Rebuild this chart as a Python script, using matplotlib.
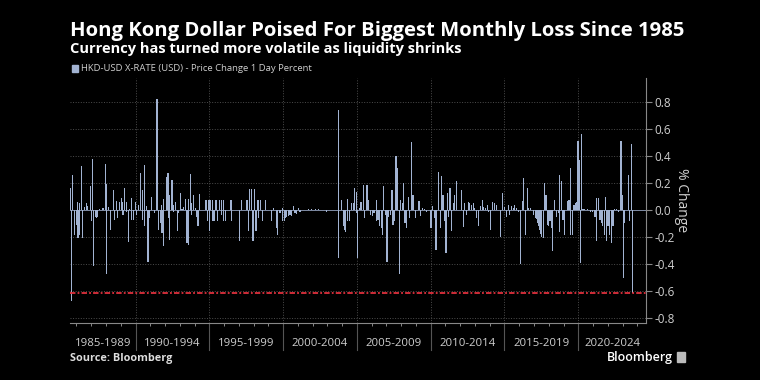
import numpy as np
import matplotlib
matplotlib.use('Agg')
import matplotlib.pyplot as plt
import matplotlib.transforms as mtransforms
from matplotlib.ticker import FormatStrFormatter

# HKD-USD daily % change (date as decimal year)
day = [
    1985.60, 1985.66, 1985.75, 1985.85, 1985.98, 1986.09, 1986.10, 1986.21, 1986.22, 1986.32,
    1986.43, 1986.55, 1986.66, 1986.77, 1986.93, 1987.02, 1987.11, 1987.18, 1987.29, 1987.38,
    1987.45, 1987.56, 1987.79, 1987.95, 1988.04, 1988.05, 1988.17, 1988.28, 1988.49, 1988.60,
    1988.69, 1988.80, 1988.92, 1989.05, 1989.14, 1989.15, 1989.28, 1989.37, 1989.38, 1989.53,
    1989.59, 1989.73, 1989.74, 1989.89, 1989.98, 1990.09, 1990.20, 1990.36, 1990.45, 1990.46,
    1990.59, 1990.60, 1990.72, 1990.84, 1990.95, 1991.11, 1991.29, 1991.45, 1991.54, 1991.69,
    1991.78, 1991.79, 1991.90, 1991.91,
    1992.09, 1992.20, 1992.21, 1992.31, 1992.32, 1992.47, 1992.58, 1992.59, 1992.70, 1992.83,
    1992.92, 1993.04, 1993.15, 1993.26, 1993.37, 1993.49, 1993.58, 1993.59, 1993.71, 1993.80,
    1993.81, 1993.92, 1994.05, 1994.16, 1994.23, 1994.32, 1994.77, 1994.89, 1994.98, 1994.99,
    1995.09, 1995.20, 1995.21, 1995.32, 1995.45, 1995.56, 1995.70, 1995.81, 1995.82, 1995.97,
    1995.98, 1996.08, 1996.47, 1996.48, 1997.05, 1997.17, 1997.55, 1997.66, 1997.75, 1997.85,
    1997.96, 1998.05, 1998.16, 1998.30, 1998.31, 1998.45, 1998.59,
    1998.83, 1999.19, 1999.35, 1999.57, 1999.64, 1999.73, 1999.84, 1999.95, 1999.96, 2000.07,
    2000.14, 2000.25, 2000.36, 2000.47, 2000.59, 2000.70, 2000.81, 2000.88, 2001.04, 2001.15,
    2001.72, 2001.94, 2002.17, 2002.39, 2002.96, 2003.75, 2003.76, 2003.97, 2004.09, 2004.15,
    2004.25, 2004.38, 2004.39, 2004.49, 2004.65, 2004.76, 2004.83, 2004.95, 2004.96, 2005.06,
    2005.19, 2005.28,
    2005.42, 2005.53, 2005.69, 2005.80, 2005.91, 2006.05, 2006.16, 2006.32, 2006.33, 2006.43,
    2006.55, 2006.66, 2006.73, 2006.82, 2006.93, 2007.04, 2007.13, 2007.27, 2007.38, 2007.45,
    2007.56, 2007.65, 2007.74, 2007.90, 2007.97, 2008.08, 2008.15, 2008.26, 2008.37, 2008.49,
    2008.58, 2008.71, 2008.80, 2008.98, 2009.21, 2009.30, 2009.44, 2009.59, 2009.71, 2010.02,
    2010.11, 2010.25, 2010.36, 2010.52, 2010.65, 2010.75, 2010.84, 2010.95, 2011.04, 2011.15,
    2011.22, 2011.31, 2011.42, 2011.54, 2011.63, 2011.74,
    2012.09, 2012.20, 2012.31, 2012.43, 2012.54, 2012.65, 2012.76, 2012.88, 2012.99, 2013.10,
    2013.26, 2013.37, 2013.49, 2013.60, 2013.71, 2013.83, 2013.94, 2014.07, 2014.21, 2014.32,
    2014.46, 2014.75, 2014.86, 2015.02, 2015.14, 2015.25, 2015.36, 2015.47, 2015.59, 2015.70,
    2015.81, 2015.97, 2016.11, 2016.22, 2016.29, 2016.45, 2016.54, 2016.65, 2016.78, 2016.94,
    2017.10, 2017.17, 2017.24, 2017.33, 2017.39, 2017.46, 2017.53, 2017.66, 2017.73, 2017.82,
    2017.91, 2018.00, 2018.09, 2018.18, 2018.27, 2018.41, 2018.52,
    2018.65, 2018.74, 2018.75, 2018.87, 2018.96, 2019.07, 2019.25, 2019.32, 2019.41, 2019.48,
    2019.49, 2019.59, 2019.71, 2019.82, 2019.91, 2019.98, 2020.05, 2020.14, 2020.20, 2020.32,
    2020.45, 2020.61, 2020.84, 2020.99, 2021.13, 2021.24, 2021.25, 2021.35, 2021.47, 2021.58,
    2021.67, 2021.76, 2021.83, 2021.92, 2022.01, 2022.12, 2022.24, 2022.35, 2022.48, 2022.60,
    2022.71, 2022.89, 2022.98, 2023.07, 2023.16, 2023.39, 2023.48, 2023.59, 2023.68,
]
pct_change = [
    0.159, -0.676, 0.256, -0.183, -0.110, 0.056, -0.207, 0.049, -0.183, 0.322,
    -0.207, 0.024, 0.049, 0.029, 0.178, -0.080, 0.373, -0.415, -0.049, -0.056,
    -0.049, 0.007, 0.012, 0.341, 0.195, -0.471, 0.024, -0.146, 0.146, -0.073,
    0.066, -0.061, 0.061, 0.085, 0.061, -0.037, 0.159, 0.061, -0.012, -0.237,
    0.010, 0.090, -0.073, -0.073, 0.061, -0.037, 0.037, 0.276, 0.146, -0.073,
    0.329, -0.122, 0.029, -0.383, -0.061, 0.098, -0.024, 0.822, -0.146, -0.098,
    0.037, -0.171, 0.078, -0.268,
    0.244, 0.276, -0.061, 0.110, -0.220, 0.220, 0.037, -0.012, 0.056, -0.159,
    -0.024, 0.122, 0.010, 0.024, 0.080, -0.244, 0.080, -0.256, 0.263, 0.049,
    -0.037, 0.110, 0.012, -0.049, -0.122, 0.117, 0.071, -0.085, 0.071, -0.159,
    0.071, 0.071, -0.078, -0.078, 0.071, -0.085, 0.071, 0.071, -0.037, 0.071,
    -0.078, -0.078, 0.071, -0.078, -0.232, 0.071, 0.071, -0.159, 0.154, 0.154,
    -0.232, 0.154, -0.159, 0.071, -0.061, 0.071, -0.078,
    0.073, -0.080, 0.017, -0.134, -0.188, -0.024, -0.024, 0.012, -0.085, -0.085,
    -0.061, -0.049, -0.041, -0.037, -0.041, 0.029, -0.024, -0.032, 0.012, -0.012,
    0.007, 0.007, 0.007, 0.007, -0.017, 0.739, -0.354, 0.073, -0.122, -0.146,
    -0.163, 0.078, -0.080, -0.080, 0.049, 0.049, 0.166, 0.134, -0.024, -0.354,
    0.012, 0.061,
    0.183, -0.056, 0.183, 0.073, -0.037, -0.041, -0.024, 0.073, -0.085, -0.073,
    -0.122, -0.134, -0.183, 0.178, -0.037, -0.385, -0.049, -0.037, 0.146, -0.110,
    -0.085, 0.398, 0.312, -0.476, 0.073, 0.049, 0.202, -0.098, -0.134, 0.093,
    -0.061, 0.505, 0.110, -0.061, 0.066, -0.041, 0.017, 0.005, -0.012, -0.134,
    0.029, -0.061, -0.293, 0.280, -0.134, 0.249, 0.110, -0.085, -0.317, 0.122,
    -0.049, 0.159, -0.159, 0.049, 0.110, 0.212,
    0.151, -0.129, 0.049, -0.037, 0.056, 0.049, 0.037, 0.049, 0.012, -0.061,
    -0.115, 0.029, 0.073, 0.024, 0.017, 0.037, -0.012, -0.151, 0.056, 0.049,
    0.037, -0.202, 0.129, 0.024, -0.049, 0.037, -0.037, 0.029, 0.017, 0.037,
    0.012, -0.017, -0.398, 0.066, 0.239, -0.183, 0.159, 0.012, 0.012, -0.037,
    -0.056, -0.066, -0.098, -0.115, -0.146, -0.178, -0.202, -0.207, 0.202, 0.110,
    -0.110, -0.122, -0.085, -0.134, -0.300, 0.073, -0.049,
    -0.024, 0.256, -0.163, 0.215, -0.073, -0.183, 0.066, 0.073, 0.073, 0.310,
    -0.183, -0.188, 0.037, 0.049, 0.056, 0.512, 0.366, -0.390, 0.561, 0.007,
    0.007, 0.005, -0.017, -0.012, -0.049, 0.085, -0.232, 0.085, -0.073, -0.098,
    -0.115, -0.183, 0.093, -0.232, -0.122, -0.183, -0.244, -0.122, 0.007, 0.007,
    -0.017, 0.507, 0.110, -0.505, -0.098, 0.261, -0.085, 0.488, -0.617,
]
period_labels = ['1985-1989', '1990-1994', '1995-1999', '2000-2004',
                 '2005-2009', '2010-2014', '2015-2019', '2020-2024']
period_starts = [1985, 1990, 1995, 2000, 2005, 2010, 2015, 2020]
y_ticks = [-0.8, -0.6, -0.4, -0.2, 0.0, 0.2, 0.4, 0.6, 0.8]

x_min, x_max = 1985.56, 2024.59
bar_color = '#a2b3d2'
grid_color = '#4d4d4d'
text_color = '#cfcfcf'

plt.rcParams['font.family'] = ['Open Sans', 'DejaVu Sans']

fig = plt.figure(figsize=(7.6, 3.8), dpi=100, facecolor='black')
ax = fig.add_axes([70/760, 1-323/380, 576/760, 245/380])
ax.set_facecolor('black')

ax.bar(day, pct_change, width=0.08, color=bar_color, linewidth=0, zorder=3)
ax.axhline(0, color='#7f8ca5', lw=0.7, zorder=2)

# latest value marker line
ax.axhline(pct_change[-1], color='#e0303c', lw=1.3, ls=(0, (3, 1.2, 1, 1.2)), zorder=4)

for y in y_ticks:
    if y != 0:
        ax.axhline(y, color=grid_color, lw=0.7, ls=':', zorder=1)

blend = mtransforms.blended_transform_factory(ax.transData, ax.transAxes)
bounds = period_starts[1:]
for yr in bounds:
    ax.axvline(yr, color=grid_color, lw=0.7, ls=':', zorder=1)
    ax.plot([yr, yr], [0, -0.11], transform=blend, clip_on=False,
            color='#555555', lw=0.8)

edges = [x_min] + bounds + [x_max]
for i, lab in enumerate(period_labels):
    mid = (edges[i] + edges[i+1]) / 2
    ax.text(mid, -0.085, lab, transform=blend, ha='center', va='center',
            fontsize=8.2, color=text_color)

ax.set_xlim(x_min, x_max)
ax.set_ylim(-0.835, 0.975)
ax.set_xticks(range(1986, 2025))
ax.set_xticklabels([])
ax.tick_params(axis='x', length=2.5, width=0.7, color='#888888', direction='out')

ax.yaxis.tick_right()
ax.yaxis.set_label_position('right')
ax.set_yticks(y_ticks)
ax.yaxis.set_major_formatter(FormatStrFormatter('%.1f'))
ax.tick_params(axis='y', length=4, width=0.8, color='#888888',
               labelcolor=text_color, labelsize=8.5, pad=2)
ax.set_ylabel('% Change', color=text_color, fontsize=10, rotation=-90,
              labelpad=10)

for s in ['left', 'top']:
    ax.spines[s].set_visible(False)
for s in ['right', 'bottom']:
    ax.spines[s].set_color('#888888')
    ax.spines[s].set_linewidth(0.8)

fig.text(70/760, 1-36/380, 'Hong Kong Dollar Poised For Biggest Monthly Loss Since 1985',
         fontsize=14.6, fontweight='bold', color='white', va='baseline')
fig.text(70/760, 1-53/380, 'Currency has turned more volatile as liquidity shrinks',
         fontsize=10.5, fontweight='bold', color='white', va='baseline')

fig.patches.append(plt.Rectangle((72/760, 1-72/380), 6/760, 7/380,
                                 transform=fig.transFigure, color=bar_color))
fig.text(81/760, 1-68.5/380, 'HKD-USD X-RATE (USD) - Price Change 1 Day Percent',
         fontsize=6.8, color=text_color, va='center')

fig.text(70/760, 1-358/380, 'Source: Bloomberg', fontsize=7.8, fontweight='bold',
         color='#dddddd', va='center')
fig.text(673/760, 1-357/380, 'Bloomberg', fontsize=9, fontweight='semibold',
         color='white', va='center', ha='right')
fig.patches.append(plt.Rectangle((677/760, 1-362/380), 8/760, 10/380,
                                 transform=fig.transFigure, color='#bbbbbb'))

fig.savefig('out.png', dpi=100, facecolor='black')
